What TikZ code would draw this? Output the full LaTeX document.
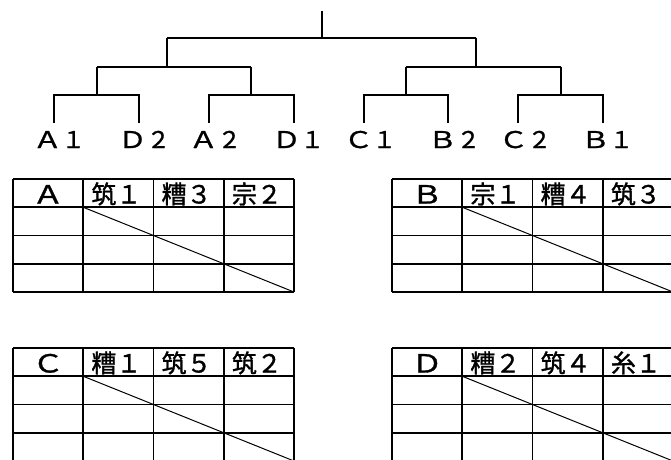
\documentclass[tikz,border=0pt]{standalone}
\usepackage{fontspec}
\newfontfamily\jp{Noto Sans CJK JP}[FakeBold=1.2]
\newfontfamily\jpw{Noto Sans CJK JP}[FakeBold=1.2, FakeStretch=1.25]
\newcommand\drawtable[7]{%
  % #1 x0, #2 y0, #3 name, #4..#7 headers
  \foreach \i in {0,...,4} \draw (#1+\i*70.25, #2) -- (#1+\i*70.25, #2+4*28.25);
  \foreach \j in {0,...,4} \draw (#1, #2+\j*28.25) -- (#1+4*70.25, #2+\j*28.25);
  \draw[diag] (#1+70.25, #2+28.25) -- (#1+4*70.25, #2+4*28.25);
  \node[hdr] (#3h0) at (#1+35.1, #2+24.5) {\jpw #4};
  \node[hdr] (#3h1) at (#1+103.4, #2+24.5) {#5};
  \node[hdr] (#3h2) at (#1+173.6, #2+24.5) {#6};
  \node[hdr] (#3h3) at (#1+243.9, #2+24.5) {#7};
}
\newcommand\leaf[2]{{\jpw #1}#2}
\begin{document}
\begin{tikzpicture}[x=1pt,y=-1pt,line width=1.6pt,
  lbl/.style={font=\jp\fontsize{23}{23}\selectfont, inner sep=0pt, anchor=base},
  hdr/.style={font=\jp\fontsize{25}{25}\selectfont, inner sep=0pt, anchor=base},
  diag/.style={line width=1pt}]
\useasboundingbox (0,0) rectangle (671,459);
\clip (0,0) rectangle (671,459);
% tree coordinates
\coordinate (r0) at (322,11);
\coordinate (L) at (167,38);
\coordinate (R) at (476,38);
\coordinate (LL) at (97,67);
\coordinate (LR) at (251,67);
\coordinate (RL) at (406,67);
\coordinate (RR) at (561,67);
\coordinate (a1) at (54,95);   \coordinate (a1b) at (54,123);
\coordinate (d2) at (139,95);  \coordinate (d2b) at (139,123);
\coordinate (a2) at (209,95);  \coordinate (a2b) at (209,123);
\coordinate (d1) at (294,95);  \coordinate (d1b) at (294,123);
\coordinate (c1) at (364,95);  \coordinate (c1b) at (364,123);
\coordinate (b2) at (448,95);  \coordinate (b2b) at (448,123);
\coordinate (c2) at (518,95);  \coordinate (c2b) at (518,123);
\coordinate (b1) at (603,95);  \coordinate (b1b) at (603,123);
% tree lines
\draw (r0) -- (r0 |- L);
\draw (L) -- (R);
\draw (L) -- (L |- LL);
\draw (R) -- (R |- RL);
\draw (LL) -- (LR);
\draw (RL) -- (RR);
\draw (LL) -- (LL |- a1);
\draw (LR) -- (LR |- a2);
\draw (RL) -- (RL |- c1);
\draw (RR) -- (RR |- c2);
\draw (a1b) -- (a1) -- (d2) -- (d2b);
\draw (a2b) -- (a2) -- (d1) -- (d1b);
\draw (c1b) -- (c1) -- (b2) -- (b2b);
\draw (c2b) -- (c2) -- (b1) -- (b1b);
% leaf labels
\node[lbl] (la1) at (59,148) {\leaf{Ａ}{１}};
\node[lbl] (ld2) at (144,148) {\leaf{Ｄ}{２}};
\node[lbl] (la2) at (215,148) {\leaf{Ａ}{２}};
\node[lbl] (ld1) at (298,148) {\leaf{Ｄ}{１}};
\node[lbl] (lc1) at (370,148) {\leaf{Ｃ}{１}};
\node[lbl] (lb2) at (454,148) {\leaf{Ｂ}{２}};
\node[lbl] (lc2) at (525,148) {\leaf{Ｃ}{２}};
\node[lbl] (lb1) at (607,148) {\leaf{Ｂ}{１}};
% tables
\drawtable{13}{179}{ta}{Ａ}{筑１}{糟３}{宗２}
\drawtable{392}{179}{tb}{Ｂ}{宗１}{糟４}{筑３}
\drawtable{13}{348}{tc}{Ｃ}{糟１}{筑５}{筑２}
\drawtable{392}{348}{td}{Ｄ}{糟２}{筑４}{糸１}
\end{tikzpicture}
\end{document}
